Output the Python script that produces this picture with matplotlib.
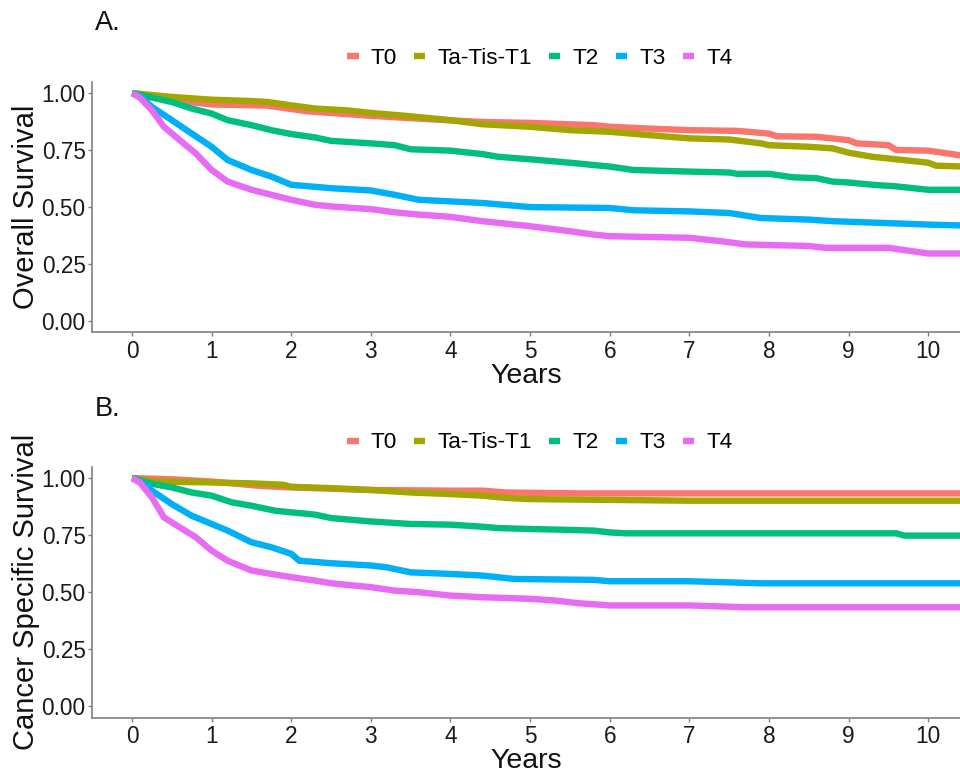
import matplotlib
matplotlib.use("Agg")
import matplotlib.pyplot as plt
from matplotlib.lines import Line2D

plt.rcParams['font.family'] = ['Liberation Sans', 'DejaVu Sans']

groups = ["T0", "Ta-Tis-T1", "T2", "T3", "T4"]
colors = ["#F8766D", "#A3A500", "#00BF7D", "#00B0F6", "#E76BF3"]

# Panel A: Overall survival
os_t0_t = [0, 0.5, 1.0, 1.7, 2.0, 2.2, 3.0, 4.0, 4.4, 5.0, 5.8, 6.0, 6.5, 7.0, 7.6, 8.0, 8.1, 8.6, 9.0, 9.1, 9.5, 9.6, 10.0, 10.3, 10.45]
os_t0_s = [1.0, 0.97, 0.95, 0.945, 0.93, 0.92, 0.90, 0.88, 0.873, 0.869, 0.859, 0.852, 0.844, 0.837, 0.834, 0.822, 0.81, 0.808, 0.793, 0.779, 0.771, 0.75, 0.747, 0.732, 0.723]

os_t1_t = [0, 0.5, 1.0, 1.5, 1.7, 2.0, 2.3, 2.7, 3.0, 3.5, 4.0, 4.4, 5.0, 5.5, 6.0, 6.5, 7.0, 7.5, 7.9, 8.0, 8.5, 8.8, 9.0, 9.3, 9.6, 10.0, 10.1, 10.45]
os_t1_s = [1.0, 0.983, 0.971, 0.965, 0.961, 0.946, 0.932, 0.924, 0.913, 0.898, 0.881, 0.863, 0.852, 0.837, 0.83, 0.815, 0.801, 0.796, 0.779, 0.771, 0.764, 0.757, 0.738, 0.72, 0.709, 0.694, 0.681, 0.677]

os_t2_t = [0, 0.25, 0.5, 0.75, 1.0, 1.2, 1.5, 1.75, 2.0, 2.3, 2.5, 3.0, 3.3, 3.5, 4.0, 4.4, 4.6, 5.0, 5.5, 6.0, 6.3, 6.5, 7.0, 7.5, 7.6, 8.0, 8.3, 8.6, 8.8, 9.0, 9.3, 9.6, 10.0, 10.45]
os_t2_s = [1.0, 0.98, 0.961, 0.932, 0.91, 0.881, 0.859, 0.837, 0.82, 0.805, 0.79, 0.779, 0.771, 0.753, 0.747, 0.732, 0.72, 0.709, 0.694, 0.677, 0.662, 0.66, 0.655, 0.651, 0.645, 0.645, 0.63, 0.626, 0.611, 0.607, 0.597, 0.59, 0.575, 0.575]

os_t3_t = [0, 0.1, 0.25, 0.5, 0.75, 1.0, 1.2, 1.5, 1.75, 2.0, 2.5, 3.0, 3.3, 3.6, 4.0, 4.4, 5.0, 6.0, 6.3, 7.0, 7.5, 7.9, 8.5, 8.8, 9.2, 9.7, 10.0, 10.45]
os_t3_s = [1.0, 0.985, 0.939, 0.881, 0.822, 0.764, 0.706, 0.662, 0.633, 0.597, 0.582, 0.572, 0.553, 0.531, 0.524, 0.517, 0.499, 0.495, 0.485, 0.48, 0.473, 0.451, 0.444, 0.437, 0.432, 0.426, 0.422, 0.418]

os_t4_t = [0, 0.1, 0.25, 0.4, 0.6, 0.8, 1.0, 1.2, 1.5, 1.75, 2.0, 2.3, 2.5, 3.0, 3.3, 3.6, 4.0, 4.4, 5.0, 5.5, 5.8, 6.0, 7.0, 7.4, 7.7, 8.5, 8.7, 9.5, 9.7, 10.0, 10.45]
os_t4_s = [1.0, 0.98, 0.924, 0.852, 0.793, 0.735, 0.662, 0.611, 0.575, 0.553, 0.531, 0.509, 0.502, 0.49, 0.476, 0.466, 0.456, 0.437, 0.415, 0.393, 0.378, 0.371, 0.364, 0.349, 0.335, 0.328, 0.32, 0.32, 0.31, 0.295, 0.295]

# Panel B: Cancer specific survival
css_t0_t = [0, 0.5, 1.0, 1.6, 2.0, 3.0, 4.0, 4.4, 4.7, 5.6, 10.45]
css_t0_s = [1.0, 0.995, 0.985, 0.966, 0.959, 0.948, 0.945, 0.945, 0.937, 0.933, 0.933]

css_t1_t = [0, 0.3, 1.0, 1.5, 1.9, 2.0, 2.5, 3.0, 3.5, 4.0, 4.4, 4.7, 5.0, 7.0, 10.45]
css_t1_s = [1.0, 0.985, 0.981, 0.977, 0.971, 0.962, 0.956, 0.948, 0.937, 0.93, 0.923, 0.913, 0.908, 0.901, 0.901]

css_t2_t = [0, 0.25, 0.5, 0.75, 1.0, 1.25, 1.5, 1.8, 2.0, 2.3, 2.5, 3.0, 3.5, 4.0, 4.4, 4.6, 5.0, 5.5, 5.8, 6.0, 6.2, 9.6, 9.7, 10.45]
css_t2_s = [1.0, 0.975, 0.959, 0.937, 0.923, 0.894, 0.879, 0.857, 0.85, 0.84, 0.825, 0.81, 0.799, 0.796, 0.787, 0.781, 0.777, 0.773, 0.77, 0.762, 0.758, 0.758, 0.748, 0.748]

css_t3_t = [0, 0.1, 0.25, 0.5, 0.75, 1.0, 1.2, 1.5, 1.75, 2.0, 2.1, 2.5, 3.0, 3.2, 3.5, 4.0, 4.4, 4.8, 5.8, 6.0, 7.0, 7.4, 7.9, 10.45]
css_t3_s = [1.0, 0.985, 0.945, 0.886, 0.835, 0.799, 0.77, 0.719, 0.697, 0.668, 0.638, 0.627, 0.617, 0.609, 0.587, 0.58, 0.573, 0.558, 0.554, 0.548, 0.548, 0.544, 0.539, 0.539]

css_t4_t = [0, 0.1, 0.25, 0.4, 0.6, 0.8, 1.0, 1.2, 1.5, 1.75, 2.0, 2.3, 2.5, 3.0, 3.3, 3.6, 4.0, 4.4, 5.0, 5.3, 5.6, 6.0, 7.0, 7.7, 10.45]
css_t4_s = [1.0, 0.98, 0.915, 0.828, 0.784, 0.741, 0.682, 0.638, 0.595, 0.58, 0.566, 0.551, 0.539, 0.522, 0.507, 0.5, 0.485, 0.478, 0.471, 0.464, 0.452, 0.442, 0.442, 0.434, 0.434]

os_curves = [(os_t0_t, os_t0_s), (os_t1_t, os_t1_s), (os_t2_t, os_t2_s), (os_t3_t, os_t3_s), (os_t4_t, os_t4_s)]
css_curves = [(css_t0_t, css_t0_s), (css_t1_t, css_t1_s), (css_t2_t, css_t2_s), (css_t3_t, css_t3_s), (css_t4_t, css_t4_s)]

x_ticks = list(range(0, 11))
y_ticks = [0.0, 0.25, 0.5, 0.75, 1.0]
y_ticklabels = ["0.00", "0.25", "0.50", "0.75", "1.00"]

W, H = 960, 769
fig = plt.figure(figsize=(W / 100, H / 100), dpi=100)

def px_axes(left, top, right, bottom):
    return fig.add_axes([left / W, 1 - bottom / H, (right - left) / W, (bottom - top) / H])

axA = px_axes(92, 81.7, 960, 332)
axB = px_axes(92, 466.7, 960, 717.7)

spine_col = "#7f7f7f"

def style(ax, curves, ylabel):
    for (t, s), c in zip(curves, colors):
        ax.plot(t, s, color=c, lw=4.6, solid_capstyle='butt', solid_joinstyle='miter', clip_on=True)
    ax.set_xlim(-0.503, 10.40)
    ax.set_ylim(-0.05, 1.05)
    ax.set_xticks(x_ticks)
    ax.set_yticks(y_ticks)
    ax.set_yticklabels(y_ticklabels)
    for sp in ['top', 'right']:
        ax.spines[sp].set_visible(False)
    for sp in ['left', 'bottom']:
        ax.spines[sp].set_color(spine_col)
        ax.spines[sp].set_linewidth(1.2)
    ax.tick_params(axis='both', colors=spine_col, length=3, width=1.0, labelsize=16.3, labelcolor='#1a1a1a')
    ax.tick_params(axis='x', pad=2.5)
    ax.tick_params(axis='y', pad=1.5)
    ax.set_xlabel("Years", fontsize=20.5, color='#111111', labelpad=0)
    ax.set_ylabel(ylabel, fontsize=21, color='#111111', labelpad=1.5)

style(axA, os_curves, "Overall Survival")
style(axB, css_curves, "Cancer Specific Survival")

handles = [Line2D([0], [0], color=c, lw=4.6, solid_capstyle='butt') for c in colors]
for yc in [58, 443]:
    fig.legend(handles, groups, loc='center', bbox_to_anchor=(540 / W, 1 - yc / H), ncol=5,
               frameon=False, fontsize=16.2, handlelength=0.5, handletextpad=0.55,
               columnspacing=0.75, borderpad=0, borderaxespad=0)

fig.text(95 / W, 1 - 23 / H, "A.", fontsize=19.5, ha='left', va='center', color='#111111')
fig.text(95 / W, 1 - 409 / H, "B.", fontsize=19.5, ha='left', va='center', color='#111111')

fig.savefig("out.png", dpi=100)
